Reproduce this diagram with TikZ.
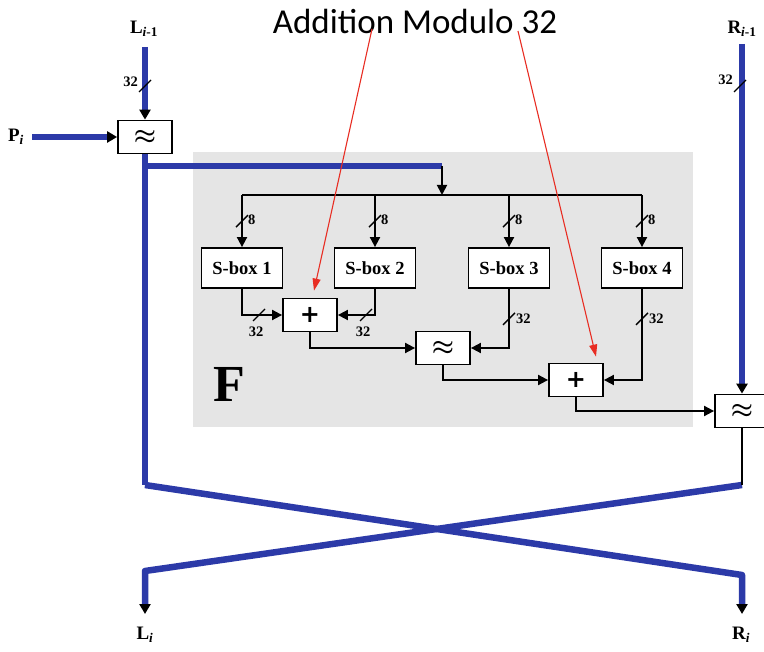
\documentclass[tikz,border=0pt]{standalone}
\usepackage{fontspec}
\setmainfont{Liberation Serif}
\newfontfamily\titlefont{Carlito}
\newfontfamily\plusfont{DejaVu Sans}
\usetikzlibrary{arrows.meta,calc}
\definecolor{fblue}{RGB}{44,58,168}
\definecolor{fgray}{RGB}{229,229,229}
\definecolor{fred}{RGB}{232,45,35}
\newcommand\slashmark[1]{\draw[tick] (#1) ++(-6,6) -- ++(12,-12);}
\begin{document}
\begin{tikzpicture}[x=1pt,y=-1pt,
  box/.style={draw,line width=1.8pt,fill=white,inner sep=0pt},
  sbox/.style={box,minimum width=81pt,minimum height=40pt,font=\bfseries\fontsize{18.5}{18.5}\selectfont},
  opbox/.style={box,minimum width=54pt,minimum height=33pt,font=\bfseries\fontsize{26}{26}\selectfont\boldmath},
  plusbox/.style={opbox,font=\plusfont\bfseries\fontsize{24}{24}\selectfont},
  bl/.style={draw=fblue,line width=6.5pt,line join=round},
  bltip/.style={bl,-{Triangle[length=10pt,width=11pt,color=black]}},
  wire/.style={draw,line width=1.8pt},
  arr/.style={-{Triangle[length=10pt,width=10pt]}},
  tick/.style={line width=1.3pt},
  lab/.style={font=\bfseries\fontsize{14.5}{14.5}\selectfont,inner sep=1pt},
  io/.style={font=\bfseries\fontsize{19}{19}\selectfont,inner sep=1pt},
  redarr/.style={draw=fred,line width=1.1pt,-{Triangle[length=12pt,width=8pt]}}]
\useasboundingbox (0,0) rectangle (764,652);
% F area
\node[fill=fgray,minimum width=500pt,minimum height=275pt,inner sep=0pt] (farea) at (443,289.5) {};
\node[font=\bfseries\fontsize{52}{52}\selectfont,inner sep=0pt] (F) at (229,384) {F};
% title
\node[font=\titlefont\fontsize{35}{35}\selectfont,inner sep=0pt] (title) at (415,21) {Addition Modulo 32};
% boxes
\node[opbox] (x1) at (145,137) {$\approx$};
\node[opbox] (x2) at (443,348) {$\approx$};
\node[opbox] (x3) at (742,411) {$\approx$};
\node[plusbox] (p1) at (310,315) {+};
\node[plusbox] (p2) at (576,380) {+};
\node[sbox] (s1) at (242,268) {S-box 1};
\node[sbox] (s2) at (375,268) {S-box 2};
\node[sbox] (s3) at (509,268) {S-box 3};
\node[sbox] (s4) at (642,268) {S-box 4};
% io labels
\node[io] (Lin) at (144,29) {L\textsubscript{\textit{i}-1}};
\node[io] (Rin) at (742,29) {R\textsubscript{\textit{i}-1}};
\node[io] (P) at (16,137) {P\textsubscript{\textit{i}}};
\node[io] (Lout) at (145,635) {L\textsubscript{\textit{i}}};
\node[io] (Rout) at (741,635) {R\textsubscript{\textit{i}}};
% coordinates
\coordinate (Ltop) at (145,47);
\coordinate (Rtop) at (742,44);
\coordinate (Ptail) at (32,137);
\coordinate (Lsplit) at (145,166);
\coordinate (Fin) at (442,166);
\coordinate (bus) at (442,195);
\coordinate (Lbend) at (145,485);
\coordinate (Rbend) at (742,485);
\coordinate (Llow) at (145,571);
\coordinate (Rlow) at (742,575);
\coordinate (Lend) at (145,614);
\coordinate (Rend) at (742,614);
\coordinate (r1s) at (372,29);
\coordinate (r2s) at (518,31);
% blue paths
\draw[bltip] (Ltop) -- (x1.north);
\draw[bltip] (Ptail) -- (x1.west);
\draw[bltip] (Rtop) -- (x3.north);
\draw[bl] (x1.south) -- (Lbend);
\draw[bl] (Lsplit) -- (Fin);
\draw[bltip] (Lbend) -- (Rlow) -- (Rend);
\draw[bltip] (Rbend) -- (Llow) -- (Lend);
\draw[wire] (x3.south) -- (Rbend);
% ticks on inputs
\slashmark{145,86}
\node[lab,anchor=east] at (139,82) {32};
\slashmark{740,86}
\node[lab,anchor=east] at (734,80) {32};
% F internals
\draw[wire,arr] (Fin) -- (bus);
\draw[wire] (s1.north |- bus) -- (s4.north |- bus);
\foreach \s in {s1,s2,s3,s4}{
  \draw[wire,arr] (\s.north |- bus) -- (\s.north);
  \slashmark{$(\s.north)+(0,-26)$}
  \node[lab,anchor=west] at ($(\s.north)+(5,-27)$) {8};
}
\draw[wire,arr] (s1.south) |- (p1.west);
\draw[wire,arr] (s2.south) |- (p1.east);
\draw[wire,arr] (p1.south) |- (x2.west);
\draw[wire,arr] (s3.south) |- (x2.east);
\draw[wire,arr] (x2.south) |- (p2.west);
\draw[wire,arr] (s4.south) |- (p2.east);
\draw[wire,arr] (p2.south) |- (x3.west);
\slashmark{259,315}
\node[lab] at (256,332) {32};
\slashmark{366,315}
\node[lab] at (363,332) {32};
\slashmark{$(s3.south)+(0,30)$}
\node[lab,anchor=west] at ($(s3.south)+(6,30)$) {32};
\slashmark{$(s4.south)+(0,30)$}
\node[lab,anchor=west] at ($(s4.south)+(6,30)$) {32};
% red arrows
\draw[redarr] (r1s) -- ([shift={(4,-7)}]p1.north);
\draw[redarr] (r2s) -- ([shift={(20,-6)}]p2.north);
\end{tikzpicture}
\end{document}
